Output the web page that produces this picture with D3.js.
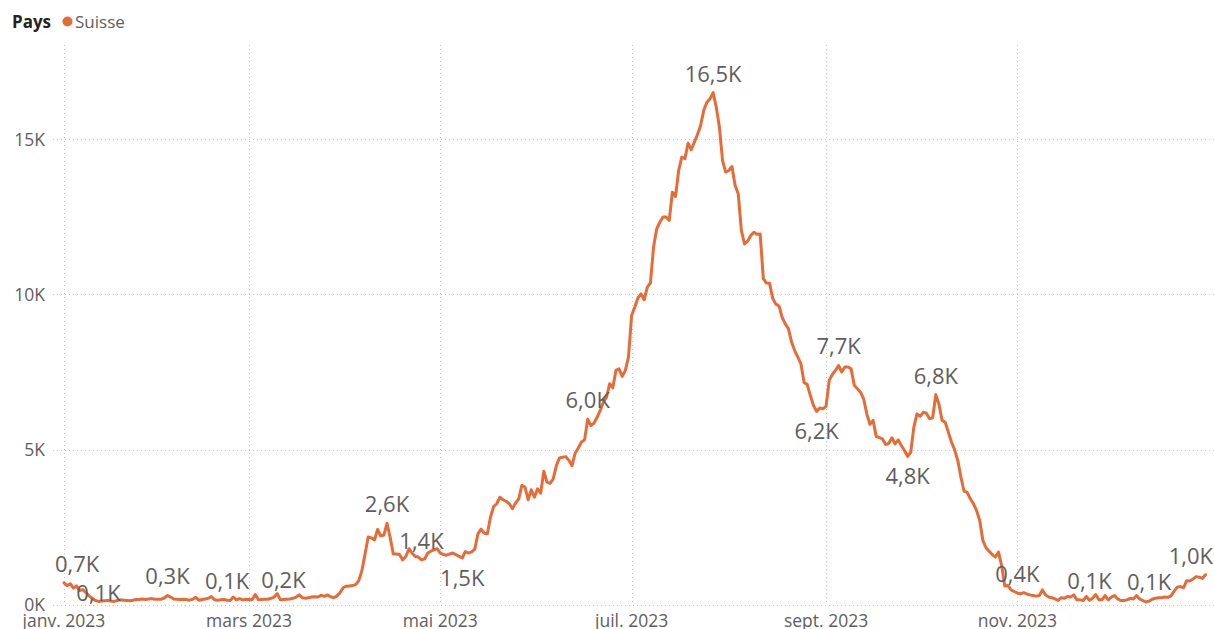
<!DOCTYPE html>
<html lang="fr">
<head>
<meta charset="utf-8">
<script src="https://cdn.jsdelivr.net/npm/d3@7"></script>
<style>
  body { margin: 0; background: #fff; }
  svg { display: block; font-family: "Open Sans", "Segoe UI", sans-serif; }
</style>
</head>
<body>
<svg id="chart" width="1214" height="629"></svg>
<script>
// --- Données (valeurs journalières) ---
const legendTitle = "Pays";
const seriesName = "Suisse";
const startDate = "2023-01-01";

const jan = [700,610,670,530,600,450,480,380,280,200, 130,100,110,120,130,110,100,130,150,140, 130,120,140,160,160,180,160,180,190,170, 170];
const feb = [170,210,290,240,180,170,160,170,160,140, 170,230,140,160,180,200,260,150,140,150, 160,140,130,240,150,190,150,170];
const mar = [160,150,320,150,160,170,170,200,240,350, 150,160,170,180,200,240,310,220,200,220, 240,250,240,300,260,310,250,220,270,380, 540];
const apr = [590,600,610,640,770,1100,1630,2180,2150,2080, 2420,2210,2240,2620,2170,1630,1630,1610,1440,1550, 1800,1660,1550,1530,1440,1470,1660,1720,1760,1800];
const may = [1660,1610,1590,1630,1660,1610,1550,1500,1710,1660, 1700,1790,2280,2430,2300,2280,2820,3160,3250,3460, 3380,3330,3250,3090,3270,3410,3840,3790,3380,3700, 3460];
const jun = [3730,3590,4300,3950,3910,4050,4480,4730,4750,4770, 4650,4480,4880,5050,5240,5310,5980,5770,5850,6040, 6260,6530,6690,7120,6990,7550,7600,7360,7550,7980];
const jul = [9320,9590,9890,10020,9830,10240,10370,11530,12120,12330, 12500,12500,12390,13300,13160,14000,14430,14380,14880,14670, 14910,15160,15450,15940,16200,16310,16510,16040,15400,14320, 13950];
const aug = [14000,14130,13520,13250,12070,11630,11720,11900,12010,11940, 11950,10510,10370,10360,9870,9690,9630,9260,9050,8900, 8470,8190,7980,7760,7160,7100,6740,6420,6230,6340, 6310];
const sep = [6390,7230,7420,7550,7710,7500,7660,7660,7600,7070, 6960,6850,6630,6150,5810,5940,5420,5380,5340,5160, 5200,5380,5180,5310,5130,4970,4780,4910,5720,6150];
const oct = [6070,6200,6170,5990,6020,6770,6470,5940,5880,5560, 5240,4990,4650,4110,3660,3620,3410,3250,3030,2710, 2070,1830,1720,1610,1530,1690,1250,600,610,470, 420];
const nov = [370,340,380,340,310,290,270,290,470,310, 240,220,180,130,220,200,260,240,310,150, 150,130,260,140,200,320,150,150,290,150];
const dec = [240,290,180,130,130,150,200,180,290,180, 130,80,110,170,200,220,220,240,230,280, 430,560,580,540,770,760,820,900,880,840, 960];

const yTicks = [0, 5000, 10000, 15000];
const xTicks = ["2023-01-01", "2023-03-01", "2023-05-01", "2023-07-01", "2023-09-01", "2023-11-01"];

// points portant une étiquette de valeur
const labelledDays = ["2023-01-01", "2023-01-12", "2023-02-03", "2023-02-22", "2023-03-12", "2023-04-14",
  "2023-04-25", "2023-05-08", "2023-06-17", "2023-07-27", "2023-08-29", "2023-09-05", "2023-09-27",
  "2023-10-06", "2023-11-01", "2023-11-24", "2023-12-13", "2023-12-31"];
const labelsBelow = ["2023-05-08", "2023-08-29", "2023-09-27"];
const labelsLow = ["2023-01-12"];

// --- Construction ---
const parse = d3.utcParse("%Y-%m-%d");
const values = [].concat(jan, feb, mar, apr, may, jun, jul, aug, sep, oct, nov, dec);
const start = parse(startDate);
const data = values.map((v, i) => ({ date: d3.utcDay.offset(start, i), value: v }));

const fr = d3.timeFormatLocale({
  dateTime: "%A %e %B %Y à %X", date: "%d/%m/%Y", time: "%H:%M:%S", periods: ["AM", "PM"],
  days: ["dimanche", "lundi", "mardi", "mercredi", "jeudi", "vendredi", "samedi"],
  shortDays: ["dim.", "lun.", "mar.", "mer.", "jeu.", "ven.", "sam."],
  months: ["janvier", "février", "mars", "avril", "mai", "juin", "juillet", "août", "septembre", "octobre", "novembre", "décembre"],
  shortMonths: ["janv.", "févr.", "mars", "avr.", "mai", "juin", "juil.", "août", "sept.", "oct.", "nov.", "déc."]
});
const monthFmt = fr.utcFormat("%b %Y");
const kFmt = v => (v / 1000).toFixed(1).replace(".", ",") + "K";

const svg = d3.select("#chart");
const W = 1214, H = 629;
const orange = "#E66C37";
const grey = "#605E5C";

const x = d3.scaleUtc()
  .domain([parse("2023-01-01"), parse("2023-12-31")])
  .range([64, 1205.5]);
const y = d3.scaleLinear().domain([0, 18000]).range([604.5, 46.5]);

// Légende
const legend = svg.append("g");
legend.append("text").attr("x", 12).attr("y", 28)
  .attr("font-size", 17).attr("font-weight", 700).attr("fill", "#252423").text(legendTitle);
legend.append("circle").attr("cx", 67.5).attr("cy", 21.5).attr("r", 5).attr("fill", orange);
legend.append("text").attr("x", 75).attr("y", 28)
  .attr("font-size", 17).attr("fill", grey).text(seriesName);

// Grilles pointillées
const grid = svg.append("g").attr("stroke", "#C8C6C4").attr("stroke-width", 1).attr("stroke-dasharray", "1,3");
grid.selectAll(".hg").data(yTicks).join("line")
  .attr("x1", 53).attr("x2", W)
  .attr("y1", d => Math.round(y(d)) + 0.5).attr("y2", d => Math.round(y(d)) + 0.5);
grid.selectAll(".vg").data(xTicks.map(parse)).join("line")
  .attr("x1", d => Math.round(x(d)) + 0.5).attr("x2", d => Math.round(x(d)) + 0.5)
  .attr("y1", 45).attr("y2", y(0));

// Axe Y
svg.append("g").selectAll("text").data(yTicks).join("text")
  .attr("x", 45).attr("y", d => y(d)).attr("dy", "0.35em")
  .attr("text-anchor", "end").attr("font-size", 17.5).attr("fill", grey)
  .text(d => d / 1000 + "K");

// Axe X
svg.append("g").selectAll("text").data(xTicks.map(parse)).join("text")
  .attr("x", d => x(d)).attr("y", 627)
  .attr("text-anchor", "middle").attr("font-size", 17.5).attr("fill", grey)
  .text(d => monthFmt(d));

// Courbe
const line = d3.line().x(d => x(d.date)).y(d => y(d.value));
svg.append("path").datum(data)
  .attr("fill", "none").attr("stroke", orange).attr("stroke-width", 3)
  .attr("stroke-linejoin", "round").attr("stroke-linecap", "round")
  .attr("d", line);

// Étiquettes de données
const byDay = new Map(data.map(d => [d3.utcFormat("%Y-%m-%d")(d.date), d]));
const labels = svg.append("g").selectAll("text")
  .data(labelledDays.map(k => ({ key: k, d: byDay.get(k) })))
  .join("text")
  .attr("font-size", 22).attr("fill", grey).attr("text-anchor", "middle")
  .attr("x", o => x(o.d.date))
  .attr("y", o => {
    const py = y(o.d.value);
    if (labelsBelow.includes(o.key)) return py + 20;
    if (labelsLow.includes(o.key)) return py - 8;
    return py - 19;
  })
  .attr("dy", "0.36em")
  .text(o => kFmt(o.d.value));

// garder les étiquettes dans la zone du graphique
labels.each(function(o) {
  const w = this.getComputedTextLength();
  let cx = x(o.d.date);
  cx = Math.max(55 + w / 2, Math.min(1213 - w / 2, cx));
  d3.select(this).attr("x", cx);
});
</script>
</body>
</html>
